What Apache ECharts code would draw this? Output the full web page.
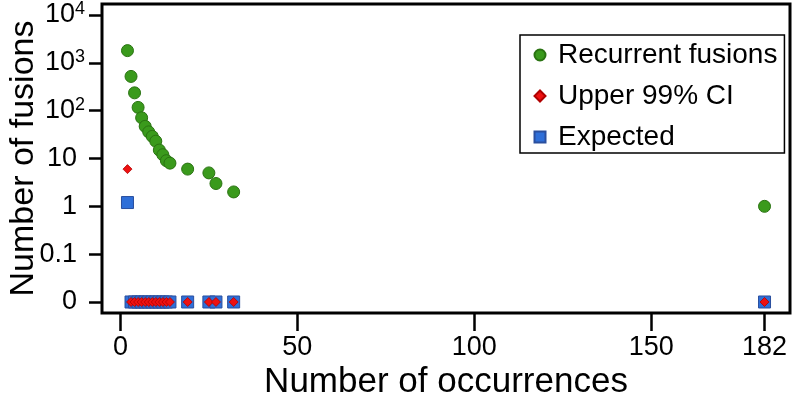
<!DOCTYPE html>
<html>
<head>
<meta charset="utf-8">
<script src="https://cdn.jsdelivr.net/npm/echarts@6/dist/echarts.min.js"></script>
<style>html,body{margin:0;padding:0;background:#fff}#c{width:796px;height:406px}</style>
</head>
<body>
<div id="c"></div>
<script>
// Data
const occurrences = [2, 3, 4, 5, 6, 7, 8, 9, 10, 11, 12, 13, 14, 19, 25, 27, 32, 182];
const recurrentFusions = [1800, 520, 236, 117, 71, 47, 36, 29, 23, 15, 12, 9, 8, 6, 5, 3, 2, 1];
const upper99CI = [6, 0, 0, 0, 0, 0, 0, 0, 0, 0, 0, 0, 0, 0, 0, 0, 0, 0];
const expectedFusions = [1.2, 0, 0, 0, 0, 0, 0, 0, 0, 0, 0, 0, 0, 0, 0, 0, 0, 0];
const xTicks = [0, 50, 100, 150, 182];
const yTickExponents = [-2, -1, 0, 1, 2, 3, 4]; // -2 is drawn as "0"

const FONT = '"Liberation Sans", Arial, Helvetica, sans-serif';
// zero values are shown at the "0" position (log position -2)
const toLog = v => (v === 0 ? -2 : Math.log10(v));
const pts = arr => occurrences.map((x, i) => [x, toLog(arr[i])]);

function yLabel(v) {
  const r = Math.round(v);
  if (r === -2) return '{p|0}';
  if (r === -1) return '{p|0.1}';
  if (r === 0) return '{p|1}';
  if (r === 1) return '{p|10}';
  return '{b|10}{s|' + r + '}';
}

const chart = echarts.init(document.getElementById('c'), null, {renderer: 'canvas'});
chart.setOption({
  animation: false,
  backgroundColor: '#ffffff',
  textStyle: {fontFamily: FONT},
  grid: {
    left: 102, right: 6, top: 4, bottom: 93,
    containLabel: false, outerBoundsMode: 'none',
    show: true, borderColor: '#000', borderWidth: 3, backgroundColor: 'transparent'
  },
  legend: {
    orient: 'vertical', left: 520, top: 35,
    borderColor: '#000', borderWidth: 1.5,
    padding: [5, 7, 1, 13.5], itemGap: 11, itemWidth: 11, itemHeight: 11,
    textStyle: {fontFamily: FONT, fontSize: 28, color: '#000', lineHeight: 30, padding: [0, 0, 0, 7.5]},
    data: [
      {name: 'Recurrent fusions', icon: 'circle'},
      {name: 'Upper 99% CI', icon: 'diamond'},
      {name: 'Expected', icon: 'rect'}
    ]
  },
  xAxis: {
    type: 'value', min: -5.2, max: 189.2,
    name: 'Number of occurrences', nameLocation: 'middle', nameGap: 52, nameMoveOverlap: false,
    nameTextStyle: {fontFamily: FONT, fontSize: 35, color: '#000'},
    axisLine: {show: false, onZero: false},
    splitLine: {show: false},
    axisTick: {show: true, customValues: xTicks, length: 18, lineStyle: {color: '#000', width: 2.5}},
    axisLabel: {customValues: xTicks, fontFamily: FONT, fontSize: 27, color: '#000', margin: 21}
  },
  yAxis: {
    type: 'value', min: -2.23, max: 4.23,
    name: 'Number of fusions', nameLocation: 'middle', nameGap: 61, nameRotate: 90, nameMoveOverlap: false,
    nameTextStyle: {fontFamily: FONT, fontSize: 34, color: '#000'},
    axisLine: {show: false, onZero: false},
    splitLine: {show: false},
    axisTick: {show: true, customValues: yTickExponents, length: 13, lineStyle: {color: '#000', width: 2.5}},
    axisLabel: {
      customValues: yTickExponents, margin: 17, color: '#000',
      formatter: yLabel,
      rich: {
        p: {fontFamily: FONT, fontSize: 27, color: '#000', padding: [0, 8, 0, 0], lineHeight: 30},
        b: {fontFamily: FONT, fontSize: 27, color: '#000', lineHeight: 30},
        s: {fontFamily: FONT, fontSize: 18, color: '#000', verticalAlign: 'top', lineHeight: 18}
      }
    }
  },
  series: [
    {
      name: 'Recurrent fusions', type: 'scatter', symbol: 'circle', symbolSize: 12, z: 4,
      itemStyle: {color: '#3a9a1c', borderColor: '#2a7312', borderWidth: 1, opacity: 1},
      data: pts(recurrentFusions)
    },
    {
      name: 'Upper 99% CI', type: 'scatter', symbol: 'diamond', symbolSize: 9, z: 3,
      itemStyle: {color: '#ee1111', borderColor: '#b00000', borderWidth: 0.8, opacity: 1},
      data: pts(upper99CI)
    },
    {
      name: 'Expected', type: 'scatter', symbol: 'rect', symbolSize: 12, z: 2,
      itemStyle: {color: '#2f6fd8', borderColor: '#2a4f9e', borderWidth: 1, opacity: 1},
      data: pts(expectedFusions)
    }
  ]
});
</script>
</body>
</html>
